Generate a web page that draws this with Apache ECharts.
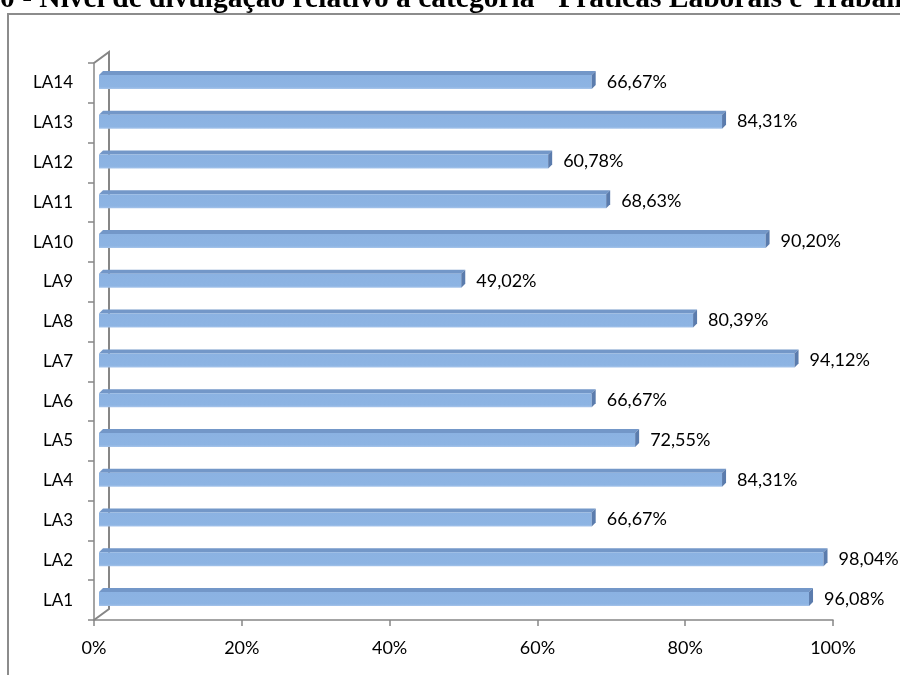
<!DOCTYPE html>
<html>
<head>
<meta charset="utf-8">
<script src="https://cdn.jsdelivr.net/npm/echarts@6/dist/echarts.min.js"></script>
<style>
  html, body { margin: 0; padding: 0; background: #fff; }
  #chart { width: 900px; height: 675px; }
</style>
</head>
<body>
<div id="chart"></div>
<script>
// Disclosure level per indicator, in percent
const categories = ['LA1', 'LA2', 'LA3', 'LA4', 'LA5', 'LA6', 'LA7', 'LA8', 'LA9', 'LA10', 'LA11', 'LA12', 'LA13', 'LA14'];
const values = [96.08, 98.04, 66.67, 84.31, 72.55, 66.67, 94.12, 80.39, 49.02, 90.20, 68.63, 60.78, 84.31, 66.67];
const axisTicks = [0, 20, 40, 60, 80, 100];
const titleText = '0 - Nível de divulgação relativo à categoria "Práticas Laborais e Trabalho Condigno"';

// Plot frame
const GRID = { left: 94, top: 63, width: 739, height: 557 };
const DEPTH = { dx: 15, dy: -11 };     // offset of the back wall
const BAR_SHIFT = 5;                    // bars sit slightly behind the front axis
const BAR_H = 14, BAR_TOP = 4;          // front face height, top face depth
const AXIS_COLOR = '#868686';
const FONT = 'Lato';

function pct(v) { return v.toFixed(2).replace('.', ',') + '%'; }

const chart = echarts.init(document.getElementById('chart'));

const gl = GRID.left, gt = GRID.top, gb = GRID.top + GRID.height;

chart.setOption({
  animation: false,
  backgroundColor: '#fff',
  grid: { left: gl, top: gt, width: GRID.width, height: GRID.height, containLabel: false },
  xAxis: {
    type: 'value', min: axisTicks[0], max: axisTicks[axisTicks.length - 1], interval: axisTicks[1] - axisTicks[0],
    axisLine: { show: true, lineStyle: { color: AXIS_COLOR, width: 1.5 } },
    axisTick: { show: true, length: 6, lineStyle: { color: AXIS_COLOR, width: 1.5 } },
    splitLine: { show: false },
    axisLabel: { margin: 19, color: '#000', fontFamily: FONT, fontSize: 18, formatter: v => v + '%' }
  },
  yAxis: {
    type: 'category', data: categories,
    axisLine: { show: true, lineStyle: { color: AXIS_COLOR, width: 1.5 } },
    axisTick: { show: true, length: 6, alignWithLabel: false, lineStyle: { color: AXIS_COLOR, width: 1.5 } },
    axisLabel: { margin: 21, color: '#000', fontFamily: FONT, fontSize: 17 }
  },
  graphic: [
    // chart area border
    { type: 'rect', silent: true, shape: { x: 8, y: 14, width: 1000, height: 800 },
      style: { fill: null, stroke: '#8c8c8c', lineWidth: 2 }, z: 0 },
    // title (runs past the right edge)
    { type: 'text', silent: true, x: 0, y: 14, z: 10,
      style: { text: titleText, font: 'bold 29.5px "Liberation Serif"', fill: '#000', textVerticalAlign: 'bottom' } },
    // back wall edge and depth diagonals
    { type: 'polyline', silent: true, z: 1,
      shape: { points: [[gl, gt], [gl + DEPTH.dx, gt + DEPTH.dy], [gl + DEPTH.dx, gb + DEPTH.dy], [gl, gb]] },
      style: { stroke: AXIS_COLOR, lineWidth: 2, fill: null } }
  ],
  series: [{
    type: 'custom',
    data: values.map((v, i) => [v, i]),
    encode: { x: 0, y: 1 },
    z: 5,
    renderItem(params, api) {
      const v = api.value(0), idx = api.value(1);
      const p0 = api.coord([0, idx]);
      const p1 = api.coord([v, idx]);
      const x0 = p0[0] + BAR_SHIFT, x1 = p1[0] + BAR_SHIFT;
      const cy = p1[1] - 1;
      const yT = cy - BAR_H / 2, yB = cy + BAR_H / 2;
      const d = BAR_TOP;
      return {
        type: 'group',
        children: [
          { type: 'polygon', shape: { points: [[x0, yT], [x1, yT], [x1 + d, yT - d], [x0 + d, yT - d]] },
            style: { fill: '#7397c8' } },
          { type: 'rect', shape: { x: x0, y: yT, width: x1 - x0, height: BAR_H },
            style: { fill: new echarts.graphic.LinearGradient(0, 0, 0, 1, [
              { offset: 0, color: '#8bb2e2' }, { offset: 0.85, color: '#8db4e3' }, { offset: 1, color: '#a6c4ea' }]) } },
          { type: 'polygon', shape: { points: [[x1, yT], [x1 + d, yT - d], [x1 + d, yB - d], [x1, yB]] },
            style: { fill: '#5b7cad' } },
          { type: 'text', x: x1 + 15, y: p1[1] - 1,
            style: { text: pct(v), font: '18px ' + FONT, fill: '#000', textVerticalAlign: 'middle', textAlign: 'left' } }
        ]
      };
    }
  }]
});
</script>
</body>
</html>
